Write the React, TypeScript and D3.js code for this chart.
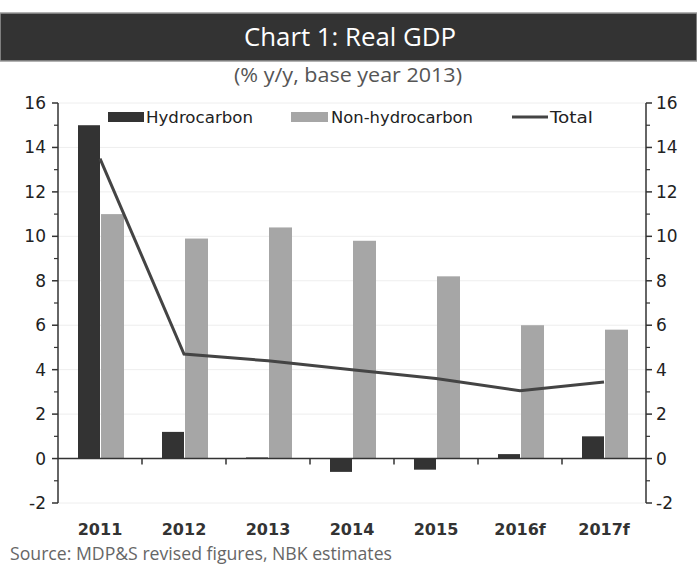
import React from 'react';
import * as d3 from 'd3';

const years = ['2011', '2012', '2013', '2014', '2015', '2016f', '2017f'];
const hydrocarbon = [15, 1.2, 0.05, -0.6, -0.5, 0.2, 1.0];
const nonHydrocarbon = [11, 9.9, 10.4, 9.8, 8.2, 6.0, 5.8];
const total = [13.5, 4.7, 4.4, 4.0, 3.6, 3.05, 3.45];
const yTicks = [-2, 0, 2, 4, 6, 8, 10, 12, 14, 16];
const minorTicks = [-1, 1, 3, 5, 7, 9, 11, 13, 15];

const W = 697;
const H = 571;
const left = 58;
const right = 646;
const top = 103;
const bottom = 503;

const App = () => {
  const x = d3.scaleBand<string>().domain(years).range([left, right]);
  const y = d3.scaleLinear().domain([-2, 16]).range([bottom, top]);
  const barW = 22;
  const line = d3.line<number>()
    .x((_, i) => x(years[i])! + x.bandwidth() / 2)
    .y(d => y(d));

  const font = '"DejaVu Sans", Arial, sans-serif';
  const tickFont = { fontFamily: font, fontSize: 17, fill: '#222' };
  const legendFont = { fontFamily: font, fontSize: 15, fill: '#222', lengthAdjust: 'spacingAndGlyphs' as const };

  return (
    <svg width={W} height={H} style={{ position: 'absolute', left: 0, top: 0, background: '#fff' }}>
      {/* title bar */}
      <rect x={0} y={13} width={W} height={48} fill="#333" stroke="#999" strokeWidth={1.5} />
      <text x={350} y={46} textAnchor="middle" fill="#fff" fontFamily='"Open Sans", sans-serif'
        fontSize={25} textLength={212} lengthAdjust="spacingAndGlyphs">Chart 1: Real GDP</text>
      <text x={348} y={82} textAnchor="middle" fill="#555" fontFamily='"Open Sans", sans-serif'
        fontSize={20} textLength={228} lengthAdjust="spacingAndGlyphs">(% y/y, base year 2013)</text>

      {/* grid */}
      {yTicks.filter(t => t !== 0).map(t => (
        <line key={t} x1={left} x2={right} y1={y(t)} y2={y(t)} stroke="#eee" strokeWidth={1} />
      ))}

      {/* bars */}
      {years.map((yr, i) => {
        const cx = x(yr)! + x.bandwidth() / 2;
        const h = hydrocarbon[i];
        const n = nonHydrocarbon[i];
        return (
          <g key={yr}>
            <rect x={cx - barW} y={y(Math.max(0, h))} width={barW}
              height={Math.abs(y(h) - y(0))} fill="#333" />
            <rect x={cx + 1} y={y(Math.max(0, n))} width={barW + 1}
              height={Math.abs(y(n) - y(0))} fill="#a6a6a6" />
          </g>
        );
      })}

      {/* zero line & category ticks */}
      <line x1={left} x2={right} y1={y(0)} y2={y(0)} stroke="#333" strokeWidth={1.5} />
      {years.slice(1).map(yr => (
        <line key={yr} x1={x(yr)!} x2={x(yr)!} y1={y(0)} y2={y(0) + 6} stroke="#333" strokeWidth={1.5} />
      ))}

      {/* total line */}
      <path d={line(total)!} fill="none" stroke="#444" strokeWidth={3} />

      {/* axes */}
      {[{ ax: left, dir: -1 }, { ax: right, dir: 1 }].map(({ ax, dir }) => (
        <g key={ax}>
          <line x1={ax} x2={ax} y1={top} y2={bottom} stroke="#333" strokeWidth={1.5} />
          {yTicks.map(t => (
            <g key={t}>
              <line x1={ax} x2={ax + dir * 6} y1={y(t)} y2={y(t)} stroke="#333" strokeWidth={1.5} />
              <text x={dir < 0 ? ax - 12 : ax + 10} y={y(t) + 6}
                textAnchor={dir < 0 ? 'end' : 'start'} {...tickFont}>{t}</text>
            </g>
          ))}
          {minorTicks.map(t => (
            <line key={t} x1={ax} x2={ax + dir * 4} y1={y(t)} y2={y(t)} stroke="#333" strokeWidth={1.2} />
          ))}
        </g>
      ))}

      {/* x labels */}
      {years.map(yr => (
        <text key={yr} x={x(yr)! + x.bandwidth() / 2} y={535} textAnchor="middle"
          fontFamily={font} fontSize={16} fontWeight="bold" fill="#333">{yr}</text>
      ))}

      {/* legend */}
      <rect x={108} y={112} width={36} height={10} fill="#333" />
      <text x={146} y={123} {...legendFont} textLength={107}>Hydrocarbon</text>
      <rect x={291} y={112} width={37} height={10} fill="#a6a6a6" />
      <text x={331} y={123} {...legendFont} textLength={142}>Non-hydrocarbon</text>
      <line x1={512} x2={548} y1={117} y2={117} stroke="#444" strokeWidth={3} />
      <text x={550} y={123} {...legendFont} textLength={43}>Total</text>

      {/* source */}
      <text x={10} y={560} fill="#666" fontFamily='"Open Sans", sans-serif' fontSize={19}
        textLength={382} lengthAdjust="spacingAndGlyphs">Source: MDP&amp;S revised figures, NBK estimates</text>
    </svg>
  );
};

export default App;
